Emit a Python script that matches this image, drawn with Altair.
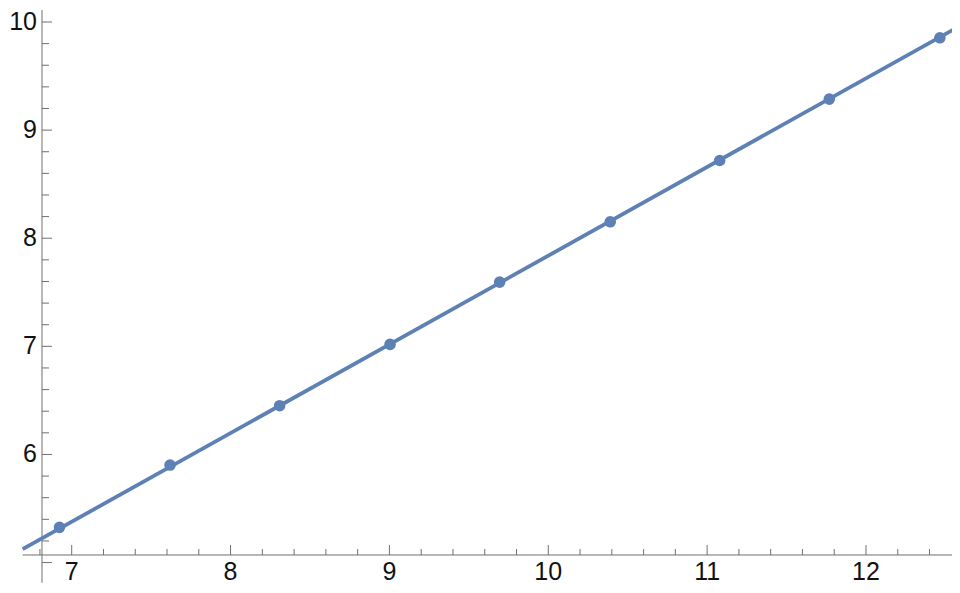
import altair as alt
import pandas as pd

# ---- data ----
x_vals = [6.923, 7.619, 8.309, 9.004, 9.694, 10.390, 11.079, 11.769, 12.465]
y_vals = [5.326, 5.902, 6.451, 7.018, 7.594, 8.152, 8.719, 9.287, 9.854]
fit_x = [6.691, 12.59]
fit_y = [5.124, 9.963]

x_major = [7, 8, 9, 10, 11, 12]
x_minor = [6.8, 7.2, 7.4, 7.6, 7.8, 8.2, 8.4, 8.6, 8.8, 9.2, 9.4, 9.6, 9.8,
           10.2, 10.4, 10.6, 10.8, 11.2, 11.4, 11.6, 11.8, 12.2, 12.4]
y_major = [5, 6, 7, 8, 9, 10]
y_minor = [5.2, 5.4, 5.6, 5.8, 6.2, 6.4, 6.6, 6.8, 7.2, 7.4, 7.6, 7.8,
           8.2, 8.4, 8.6, 8.8, 9.2, 9.4, 9.6, 9.8]
x_labels = ["7", "8", "9", "10", "11", "12"]
x_label_pos = [7, 8, 9, 10, 11, 12]
y_labels = ["6", "7", "8", "9", "10"]
y_label_pos = [6, 7, 8, 9, 10]

# axes crossing point and extents (data units)
y_axis_at_x = 6.813
x_axis_at_y = 5.07
x_axis_range = [6.691, 12.59]
y_axis_range = [4.813, 10.11]

# ---- layout (plot area fills the page inside the 8px margin) ----
X_DOMAIN = [6.599, 12.5414]
Y_DOMAIN = [4.7925, 10.1295]
W, H = 944, 577
COLOR = "#5E81B5"
AXIS = "#707070"
FONT = "Liberation Sans"
FS = 25

xs = alt.Scale(domain=X_DOMAIN, nice=False, zero=False)
ys = alt.Scale(domain=Y_DOMAIN, nice=False, zero=False)


def X(f):
    return alt.X(f, type="quantitative", scale=xs, axis=None)


def Y(f):
    return alt.Y(f, type="quantitative", scale=ys, axis=None)


df_pts = pd.DataFrame({"x": x_vals, "y": y_vals})
df_fit = pd.DataFrame({"x": fit_x, "y": fit_y})

fit = alt.Chart(df_fit).mark_line(color=COLOR, strokeWidth=3.8, clip=True).encode(
    x=X("x"), y=Y("y"))
pts = alt.Chart(df_pts).mark_circle(color=COLOR, size=135, opacity=1).encode(
    x=X("x"), y=Y("y"))

x_axis = alt.Chart(pd.DataFrame({"x": [x_axis_range[0]], "x2": [x_axis_range[1]],
                                 "y": [x_axis_at_y]})).mark_rule(
    color=AXIS, strokeWidth=1, clip=True).encode(x=X("x"), x2="x2:Q", y=Y("y"))
y_axis = alt.Chart(pd.DataFrame({"y": [y_axis_range[0]], "y2": [y_axis_range[1]],
                                 "x": [y_axis_at_x]})).mark_rule(
    color=AXIS, strokeWidth=1, clip=True).encode(x=X("x"), y=Y("y"), y2="y2:Q")

df_xmaj = pd.DataFrame({"x": x_major, "y": [x_axis_at_y] * len(x_major)})
df_xmin = pd.DataFrame({"x": x_minor, "y": [x_axis_at_y] * len(x_minor)})
df_ymaj = pd.DataFrame({"y": y_major, "x": [y_axis_at_x] * len(y_major)})
df_ymin = pd.DataFrame({"y": y_minor, "x": [y_axis_at_x] * len(y_minor)})

xt_maj = alt.Chart(df_xmaj).mark_rule(color=AXIS, strokeWidth=1, y2Offset=-10).encode(
    x=X("x"), y=Y("y"), y2="y:Q")
xt_min = alt.Chart(df_xmin).mark_rule(color=AXIS, strokeWidth=1, y2Offset=-6).encode(
    x=X("x"), y=Y("y"), y2="y:Q")
yt_maj = alt.Chart(df_ymaj).mark_rule(color=AXIS, strokeWidth=1, x2Offset=10).encode(
    y=Y("y"), x=X("x"), x2="x:Q")
yt_min = alt.Chart(df_ymin).mark_rule(color=AXIS, strokeWidth=1, x2Offset=7).encode(
    y=Y("y"), x=X("x"), x2="x:Q")

df_xl = pd.DataFrame({"x": x_label_pos, "y": [x_axis_at_y] * len(x_label_pos), "t": x_labels})
df_yl = pd.DataFrame({"y": y_label_pos, "x": [y_axis_at_x] * len(y_label_pos), "t": y_labels})

x_lab = alt.Chart(df_xl).mark_text(font=FONT, fontSize=FS, color="#111", align="center",
                                   baseline="middle", dy=17).encode(
    x=X("x"), y=Y("y"), text="t:N")
y_lab = alt.Chart(df_yl).mark_text(font=FONT, fontSize=FS, color="#111", align="right",
                                   baseline="middle", dx=-5).encode(
    x=X("x"), y=Y("y"), text="t:N")

chart = alt.layer(x_axis, y_axis, xt_maj, xt_min, yt_maj, yt_min, x_lab, y_lab, fit, pts).properties(
    width=W, height=H, autosize=alt.AutoSizeParams(type="none"), padding=0,
    background="white"
).configure_view(stroke=None)

chart.save("out.html", embed_options={"renderer": "svg", "actions": False})
